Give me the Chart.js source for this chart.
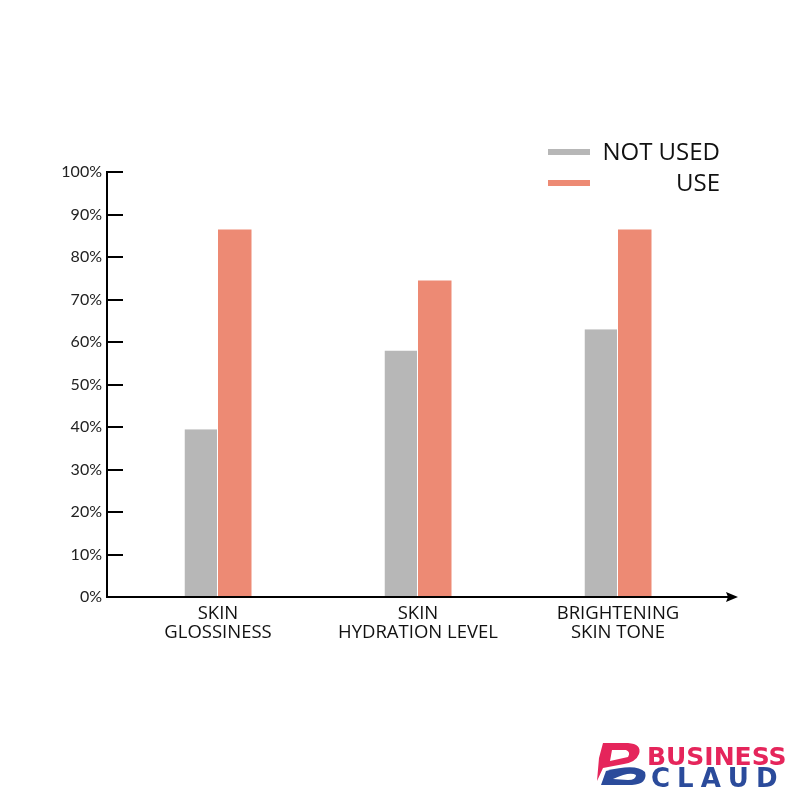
<!DOCTYPE html>
<html>
<head>
<meta charset="utf-8">
<script src="https://cdn.jsdelivr.net/npm/chart.js@4/dist/chart.umd.min.js"></script>
<style>
  html, body { margin: 0; padding: 0; background: #ffffff; }
  #wrap { width: 800px; height: 800px; }
</style>
</head>
<body>
<div id="wrap"><canvas id="skinChart" width="800" height="800"></canvas></div>
<script>
const categories = [['SKIN', 'GLOSSINESS'], ['SKIN', 'HYDRATION LEVEL'], ['BRIGHTENING', 'SKIN TONE']];
const seriesNames = ['NOT USED', 'USE'];
const notUsedValues = [39.5, 58, 63];
const useValues = [86.5, 74.5, 86.5];
const yTicks = [0, 10, 20, 30, 40, 50, 60, 70, 80, 90, 100];

const grey = '#b7b7b7';
const salmon = '#ed8a74';

// axes with inward ticks and an arrow on x, plus legend and logo
const decorPlugin = {
    id: 'decor',
    afterDraw(chart) {
        const ctx = chart.ctx;
        const y = chart.scales.y;
        const axisX = 107;
        const baseY = y.getPixelForValue(0);
        ctx.save();
        ctx.strokeStyle = '#000';
        ctx.fillStyle = '#000';
        ctx.lineWidth = 2;
        ctx.beginPath();
        ctx.moveTo(axisX, y.getPixelForValue(100));
        ctx.lineTo(axisX, baseY);
        ctx.stroke();
        yTicks.forEach(t => {
            if (t === 0) return;
            const py = Math.round(y.getPixelForValue(t));
            ctx.beginPath();
            ctx.moveTo(axisX - 1, py);
            ctx.lineTo(axisX + 16, py);
            ctx.stroke();
        });
        ctx.beginPath();
        ctx.moveTo(axisX - 1, baseY);
        ctx.lineTo(728, baseY);
        ctx.stroke();
        ctx.beginPath();
        ctx.moveTo(738, baseY);
        ctx.lineTo(726, baseY - 5);
        ctx.lineTo(728, baseY);
        ctx.lineTo(726, baseY + 5);
        ctx.closePath();
        ctx.fill();

        // legend
        ctx.font = '24px "Open Sans"';
        ctx.textAlign = 'right';
        ctx.textBaseline = 'middle';
        chart.data.datasets.forEach((ds, i) => {
            const ly = 152 + i * 31;
            ctx.fillStyle = ds.backgroundColor;
            ctx.fillRect(548, ly - 3, 42, 6);
            ctx.fillStyle = '#111';
            ctx.fillText(ds.label, 720, ly + 1);
        });

        // logo
        ctx.fillStyle = '#e5255b';
        ctx.beginPath();
        ctx.moveTo(603, 743);
        ctx.lineTo(628, 743);
        ctx.quadraticCurveTo(642, 744, 639, 754);
        ctx.quadraticCurveTo(636, 762, 624, 764);
        ctx.lineTo(603, 768);
        ctx.lineTo(597, 781);
        ctx.lineTo(599, 758);
        ctx.closePath();
        ctx.fill();
        ctx.fillStyle = '#ffffff';
        ctx.beginPath();
        ctx.moveTo(612, 750);
        ctx.lineTo(626, 750);
        ctx.quadraticCurveTo(631, 752, 628, 757);
        ctx.lineTo(610, 761);
        ctx.closePath();
        ctx.fill();
        ctx.fillStyle = '#2b4b9b';
        ctx.beginPath();
        ctx.moveTo(601, 785);
        ctx.lineTo(606, 771);
        ctx.quadraticCurveTo(636, 763, 645, 772);
        ctx.quadraticCurveTo(648, 784, 632, 785);
        ctx.closePath();
        ctx.fill();
        ctx.fillStyle = '#ffffff';
        ctx.beginPath();
        ctx.moveTo(613, 779);
        ctx.quadraticCurveTo(630, 771, 636, 775);
        ctx.quadraticCurveTo(636, 780, 628, 780);
        ctx.closePath();
        ctx.fill();

        ctx.textAlign = 'left';
        ctx.textBaseline = 'alphabetic';
        ctx.font = 'bold 25px "DejaVu Sans"';
        ctx.fillStyle = '#e5255b';
        ctx.fillText('BUSINESS', 647, 765);
        ctx.fillStyle = '#2b4b9b';
        ctx.font = 'bold 26px "DejaVu Sans"';
        let cx = 651;
        'CLAUD'.split('').forEach(ch => {
            ctx.fillText(ch, cx, 787);
            cx += ctx.measureText(ch).width + 7;
        });
        ctx.restore();
    }
};

const ctx = document.getElementById('skinChart').getContext('2d');
const skinChart = new Chart(ctx, {
    type: 'bar',
    data: {
        labels: categories,
        datasets: [{
            label: seriesNames[0],
            data: notUsedValues,
            backgroundColor: grey,
            borderColor: '#ffffff',
            borderWidth: { left: 0, right: 1, top: 0, bottom: 0 },
            borderSkipped: false,
            barPercentage: 1,
            categoryPercentage: 0.335
        }, {
            label: seriesNames[1],
            data: useValues,
            backgroundColor: salmon,
            barPercentage: 1,
            categoryPercentage: 0.335
        }]
    },
    options: {
        responsive: false,
        animation: false,
        layout: {
            padding: { top: 172, right: 82, left: 0, bottom: 0 }
        },
        plugins: {
            legend: { display: false },
            tooltip: { enabled: false }
        },
        scales: {
            x: {
                grid: { display: false, drawTicks: false },
                border: { display: false },
                ticks: {
                    color: '#111',
                    padding: 7,
                    maxRotation: 0,
                    font: { family: 'Open Sans', size: 18.5, lineHeight: 1.03 }
                },
                afterFit(scale) { scale.height = 203; }
            },
            y: {
                min: 0,
                max: 100,
                grid: { display: false, drawTicks: false },
                border: { display: false },
                afterBuildTicks(scale) { scale.ticks = yTicks.map(v => ({ value: v })); },
                ticks: {
                    color: '#222',
                    padding: 16,
                    font: { family: 'Lato', size: 16 },
                    callback: v => v + '%'
                },
                afterFit(scale) { scale.width = 118; }
            }
        }
    },
    plugins: [decorPlugin]
});
</script>
</body>
</html>
